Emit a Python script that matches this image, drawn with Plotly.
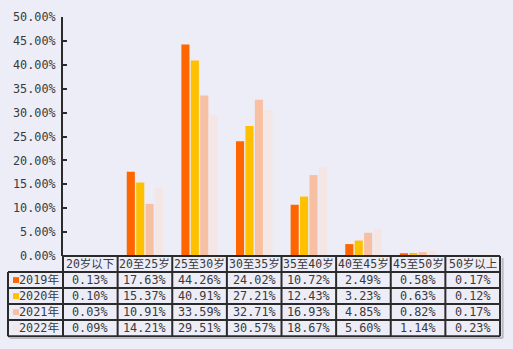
import plotly.graph_objects as go

categories = ["20岁以下", "20至25岁", "25至30岁", "30至35岁", "35至40岁", "40至45岁", "45至50岁", "50岁以上"]
series_names = ["2019年", "2020年", "2021年", "2022年"]
v2019 = [0.13, 17.63, 44.26, 24.02, 10.72, 2.49, 0.58, 0.17]
v2020 = [0.10, 15.37, 40.91, 27.21, 12.43, 3.23, 0.63, 0.12]
v2021 = [0.03, 10.91, 33.59, 32.71, 16.93, 4.85, 0.82, 0.17]
v2022 = [0.09, 14.21, 29.51, 30.57, 18.67, 5.60, 1.14, 0.23]
series_values = [v2019, v2020, v2021, v2022]
colors = ["#FF6600", "#FFC000", "#F8C0A2", "#F4E6E4"]

W, H = 513, 349
ML, MR, MT, MB = 63, 13, 10, 93
PW, PH = W - ML - MR, H - MT - MB
BG = "#EDEDF7"
LINE = "#2b2b2b"
TXT = "#3a3a3a"
FONT = "DejaVu Sans Mono, Noto Sans CJK SC, monospace"


def py(p):
    """pixel row -> paper y"""
    return (H - MB - p) / PH


def px(p):
    """pixel column -> paper x"""
    return (p - ML) / PW


fig = go.Figure()
for name, vals, c in zip(series_names, series_values, colors):
    fig.add_trace(go.Bar(x=categories, y=vals, name=name, marker_color=c,
                         marker_line_width=0))

shapes = []
annotations = []

# data table under the chart
row_lines = [256, 272.5, 289, 305.5, 322, 338.5]
# horizontal rules
shapes.append(dict(type="line", xref="paper", yref="paper", x0=0, x1=1,
                   y0=py(row_lines[0]), y1=py(row_lines[0]),
                   line=dict(color=LINE, width=2)))
for r in row_lines[1:]:
    shapes.append(dict(type="line", xref="paper", yref="paper", x0=px(8), x1=1,
                       y0=py(r), y1=py(r), line=dict(color=LINE, width=2)))
# vertical rules
shapes.append(dict(type="line", xref="paper", yref="paper", x0=px(8), x1=px(8),
                   y0=py(row_lines[1]), y1=py(row_lines[-1]),
                   line=dict(color=LINE, width=2)))
shapes.append(dict(type="line", xref="paper", yref="paper", x0=0, x1=0,
                   y0=py(row_lines[0]), y1=py(row_lines[-1]),
                   line=dict(color=LINE, width=2)))
for i in range(1, len(categories) + 1):
    x = i / len(categories)
    shapes.append(dict(type="line", xref="paper", yref="paper", x0=x, x1=x,
                       y0=py(row_lines[0]), y1=py(row_lines[-1]),
                       line=dict(color=LINE, width=2)))
# soft drop shadow
shapes.append(dict(type="line", xref="paper", yref="paper", x0=1.006, x1=1.006,
                   y0=py(row_lines[0] + 2), y1=py(row_lines[-1] + 2),
                   line=dict(color="#b9b9c4", width=2)))
shapes.append(dict(type="line", xref="paper", yref="paper", x0=px(10), x1=1.006,
                   y0=py(row_lines[-1] + 2), y1=py(row_lines[-1] + 2),
                   line=dict(color="#b9b9c4", width=2)))

# header cells
hc = (row_lines[0] + row_lines[1]) / 2
for cat in categories:
    annotations.append(dict(x=cat, xref="x", y=py(hc), yref="paper", text=cat,
                            showarrow=False, xanchor="center", yanchor="middle",
                            font=dict(size=11.5, color=TXT, family=FONT)))

# value rows
for k, (name, vals, c) in enumerate(zip(series_names, series_values, colors)):
    yc = (row_lines[k + 1] + row_lines[k + 2]) / 2
    for cat, v in zip(categories, vals):
        annotations.append(dict(x=cat, xref="x", y=py(yc), yref="paper",
                                text=f"{v:.2f}%", showarrow=False,
                                xanchor="center", yanchor="middle",
                                font=dict(size=11.8, color=TXT, family=FONT)))
    annotations.append(dict(x=px(61), xref="paper", y=py(yc), yref="paper",
                            text=name, showarrow=False, xanchor="right",
                            yanchor="middle",
                            font=dict(size=11.8, color=TXT, family=FONT)))
    shapes.append(dict(type="rect", xref="paper", yref="paper",
                       x0=px(13), x1=px(19), y0=py(yc - 3), y1=py(yc + 3),
                       fillcolor=c, line=dict(width=0)))

fig.update_layout(
    width=W, height=H,
    margin=dict(l=ML, r=MR, t=MT, b=MB),
    paper_bgcolor=BG, plot_bgcolor=BG,
    barmode="group", bargap=0.31, bargroupgap=0.14,
    showlegend=False,
    shapes=shapes, annotations=annotations,
    font=dict(family=FONT, color=TXT, size=12),
)
fig.update_xaxes(showticklabels=False, showgrid=False, zeroline=False,
                 showline=False, ticks="", range=[-0.5, len(categories) - 0.5])
fig.update_yaxes(range=[0, 50], dtick=5, tickformat=".2f", ticksuffix="%",
                 showgrid=False, zeroline=False, showline=True,
                 linecolor=LINE, linewidth=2, ticks="inside", ticklen=4,
                 tickwidth=2, tickcolor=LINE, ticklabelstandoff=3,
                 tickfont=dict(size=11.8, color=TXT, family=FONT))

fig.write_html("out.html")
